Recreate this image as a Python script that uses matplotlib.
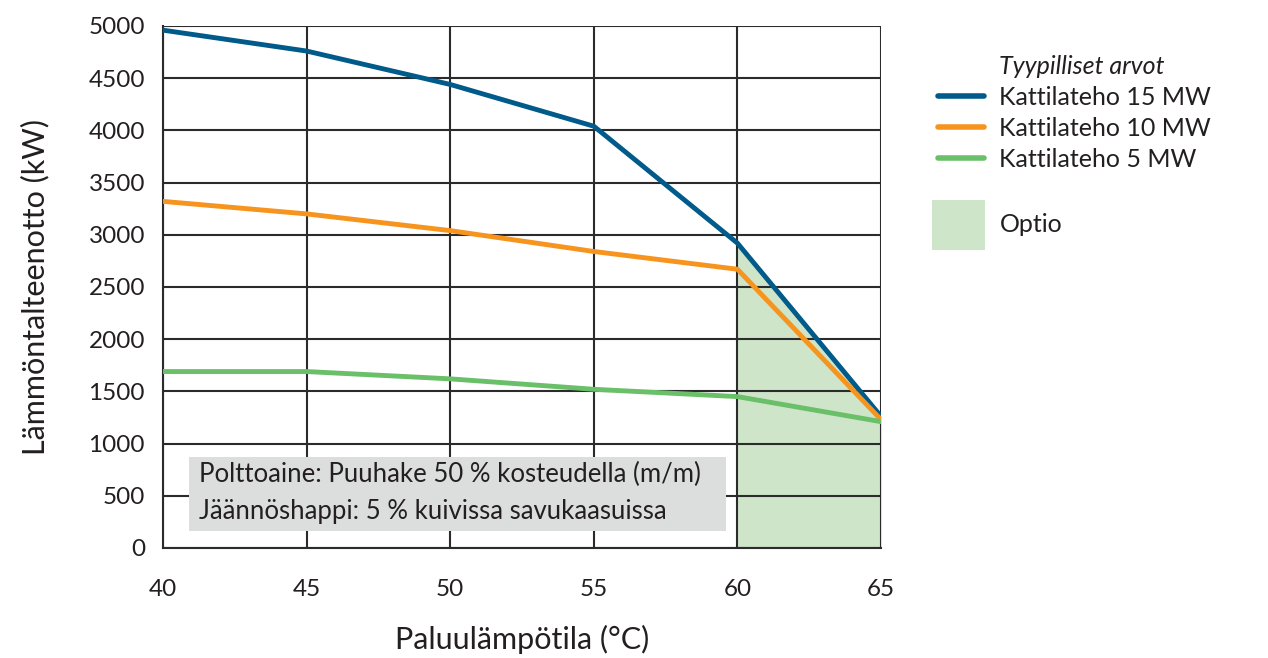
import matplotlib
matplotlib.use("Agg")
import numpy as np
from matplotlib import pyplot as plt
from matplotlib.patches import Patch, Rectangle
from matplotlib.lines import Line2D

plt.rcParams['font.family'] = ['Lato', 'DejaVu Sans']

temps = [40, 45, 50, 55, 60, 65]
p15 = [4960, 4760, 4440, 4040, 2920, 1260]
p10 = [3320, 3200, 3040, 2840, 2670, 1230]
p5 = [1690, 1690, 1620, 1520, 1450, 1210]
labels = ['Kattilateho 15 MW', 'Kattilateho 10 MW', 'Kattilateho 5 MW']
colors = ['#005a8a', '#f7941d', '#6abf69']
option_start = 60
txt_col = '#231f20'

fig = plt.figure(figsize=(12.68, 6.58), dpi=100)
ax = fig.add_axes([0.1286, 0.1672, 0.5662, 0.7933])

# option area under the 15 MW curve
t = np.array(temps)
mask = t >= option_start
ax.fill_between(t[mask], 0, np.array(p15)[mask], color='#cfe5c9', zorder=1)

ax.set_xlim(40, 65)
ax.set_ylim(0, 5000)
ax.set_xticks(temps)
ax.set_yticks(range(0, 5001, 500))
ax.grid(True, color='#2b2b2b', linewidth=1.5, zorder=2)
ax.set_axisbelow(False)
for s in ['top', 'right']:
    ax.spines[s].set_visible(False)
for s in ['left', 'bottom']:
    ax.spines[s].set_linewidth(1.5)
    ax.spines[s].set_color('#2b2b2b')
ax.tick_params(length=0, labelsize=17.5, colors=txt_col)
ax.tick_params(axis='y', pad=13)
ax.tick_params(axis='x', pad=22)

handles = []
for vals, lab, c in zip([p15, p10, p5], labels, colors):
    h, = ax.plot(temps, vals, color=c, linewidth=3.5, label=lab, zorder=4,
                 solid_capstyle='round', solid_joinstyle='round')
    handles.append(h)

ax.set_xlabel('Paluulämpötila (°C)', fontsize=22, color=txt_col, labelpad=18)
ax.set_ylabel('Lämmöntalteenotto (kW)', fontsize=22, color=txt_col, labelpad=28)

# fuel info box
ax.add_patch(Rectangle((40.9, 165), 18.7, 707, facecolor='#dcdddd', edgecolor='none', zorder=5))
ax.text(41.25, 700, 'Polttoaine: Puuhake 50 % kosteudella (m/m)', fontsize=18.5,
        color=txt_col, va='center', ha='left', zorder=6)
ax.text(41.25, 354, 'Jäännöshappi: 5 % kuivissa savukaasuissa', fontsize=18.5,
        color=txt_col, va='center', ha='left', zorder=6)

# legend: title row as a blank entry so it lines up with the labels
title_h = Line2D([], [], linestyle='none')
leg1 = fig.legend(handles=[title_h] + handles, labels=['Tyypilliset arvot'] + labels,
                  loc='upper left', bbox_to_anchor=(0.7315, 0.932),
                  frameon=False, fontsize=18, handlelength=1.85,
                  handletextpad=0.6, labelspacing=0.32, borderaxespad=0)
leg1.get_texts()[0].set_fontstyle('italic')
for line in leg1.get_lines():
    line.set_linewidth(4)
    line.set_solid_capstyle('round')
for txt in leg1.get_texts():
    txt.set_color(txt_col)

leg2 = fig.legend(handles=[Patch(facecolor='#cfe5c9', edgecolor='none', label='Optio')],
                  loc='upper left', bbox_to_anchor=(0.7275, 0.712), frameon=False, fontsize=18,
                  handlelength=2.1, handleheight=2.7, handletextpad=0.6, borderaxespad=0)
for txt in leg2.get_texts():
    txt.set_color(txt_col)

fig.savefig('out.png', dpi=100)
